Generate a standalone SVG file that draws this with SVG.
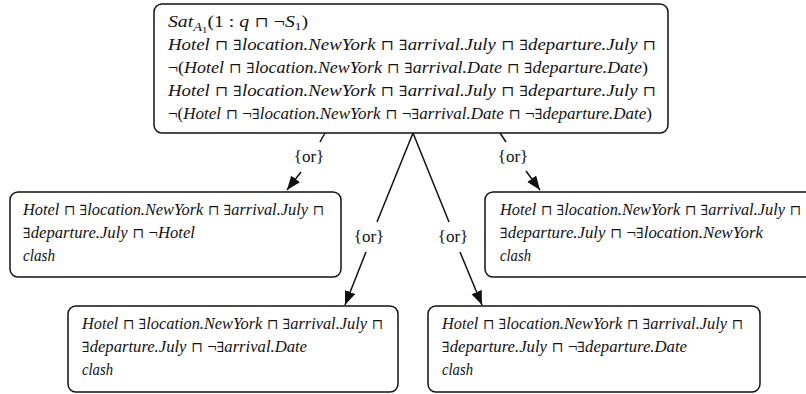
<svg xmlns="http://www.w3.org/2000/svg" width="806" height="394" viewBox="0 0 806 394">
<style>
.box{fill:#fff;stroke:#111;stroke-width:1.5}
.t{font-family:'Liberation Serif','Times New Roman',serif;font-style:italic;font-size:16.5px;fill:#111}
.u{font-style:normal}
.s{font-family:'DejaVu Serif',serif;font-style:normal;font-size:14px}
.e{fill:none;stroke:#111;stroke-width:1.5}
.lbl{font-family:'Liberation Serif','Times New Roman',serif;font-size:17px;fill:#111;text-anchor:middle}
</style>
<defs>
<marker id="ah" markerUnits="userSpaceOnUse" markerWidth="15" markerHeight="12" refX="14" refY="5.5" orient="auto">
<path d="M0,0 L14,5.5 L0,11 z" fill="#111"/>
</marker>
</defs>
<g id="n0">
<rect class="box" x="154" y="4" width="514" height="129" rx="8"/>
<text class="t" x="168" y="27" textLength="140" lengthAdjust="spacingAndGlyphs">Sat<tspan font-size="12" dy="4">A</tspan><tspan class="u" font-size="9" dy="2">1</tspan><tspan class="u" dy="-6">(1 : </tspan>q<tspan class="s"> ⊓ </tspan><tspan class="u">¬</tspan>S<tspan class="u" font-size="11" dy="3">1</tspan><tspan class="u" dy="-3">)</tspan></text>
<text class="t" x="168" y="50" textLength="488" lengthAdjust="spacingAndGlyphs">Hotel<tspan class="s"> ⊓ ∃</tspan>location.NewYork<tspan class="s"> ⊓ ∃</tspan>arrival.July<tspan class="s"> ⊓ ∃</tspan>departure.July<tspan class="s"> ⊓</tspan></text>
<text class="t" x="168" y="73" textLength="480" lengthAdjust="spacingAndGlyphs"><tspan class="u">¬(</tspan>Hotel<tspan class="s"> ⊓ ∃</tspan>location.NewYork<tspan class="s"> ⊓ ∃</tspan>arrival.Date<tspan class="s"> ⊓ ∃</tspan>departure.Date<tspan class="u">)</tspan></text>
<text class="t" x="168" y="96" textLength="488" lengthAdjust="spacingAndGlyphs">Hotel<tspan class="s"> ⊓ ∃</tspan>location.NewYork<tspan class="s"> ⊓ ∃</tspan>arrival.July<tspan class="s"> ⊓ ∃</tspan>departure.July<tspan class="s"> ⊓</tspan></text>
<text class="t" x="168" y="119" textLength="484" lengthAdjust="spacingAndGlyphs"><tspan class="u">¬(</tspan>Hotel<tspan class="s"> ⊓ </tspan><tspan class="u">¬</tspan><tspan class="s">∃</tspan>location.NewYork<tspan class="s"> ⊓ </tspan><tspan class="u">¬</tspan><tspan class="s">∃</tspan>arrival.Date<tspan class="s"> ⊓ </tspan><tspan class="u">¬</tspan><tspan class="s">∃</tspan>departure.Date<tspan class="u">)</tspan></text>
</g>
<g id="n1">
<rect class="box" x="10" y="192" width="331" height="85" rx="8"/>
<text class="t" x="23" y="215" textLength="301" lengthAdjust="spacingAndGlyphs">Hotel<tspan class="s"> ⊓ ∃</tspan>location.NewYork<tspan class="s"> ⊓ ∃</tspan>arrival.July<tspan class="s"> ⊓</tspan></text>
<text class="t" x="23" y="238" textLength="172" lengthAdjust="spacingAndGlyphs"><tspan class="s">∃</tspan>departure.July<tspan class="s"> ⊓ </tspan><tspan class="u">¬</tspan>Hotel</text>
<text class="t" x="23" y="261" textLength="32" lengthAdjust="spacingAndGlyphs">clash</text>
</g>
<g id="n2">
<rect class="box" x="485" y="192" width="340" height="85" rx="8"/>
<text class="t" x="500" y="215" textLength="301" lengthAdjust="spacingAndGlyphs">Hotel<tspan class="s"> ⊓ ∃</tspan>location.NewYork<tspan class="s"> ⊓ ∃</tspan>arrival.July<tspan class="s"> ⊓</tspan></text>
<text class="t" x="500" y="238" textLength="263" lengthAdjust="spacingAndGlyphs"><tspan class="s">∃</tspan>departure.July<tspan class="s"> ⊓ </tspan><tspan class="u">¬</tspan><tspan class="s">∃</tspan>location.NewYork</text>
<text class="t" x="500" y="261" textLength="31" lengthAdjust="spacingAndGlyphs">clash</text>
</g>
<g id="n3">
<rect class="box" x="68" y="306" width="330" height="86" rx="8"/>
<text class="t" x="82" y="329" textLength="301" lengthAdjust="spacingAndGlyphs">Hotel<tspan class="s"> ⊓ ∃</tspan>location.NewYork<tspan class="s"> ⊓ ∃</tspan>arrival.July<tspan class="s"> ⊓</tspan></text>
<text class="t" x="82" y="352" textLength="225" lengthAdjust="spacingAndGlyphs"><tspan class="s">∃</tspan>departure.July<tspan class="s"> ⊓ </tspan><tspan class="u">¬</tspan><tspan class="s">∃</tspan>arrival.Date</text>
<text class="t" x="82" y="375" textLength="31" lengthAdjust="spacingAndGlyphs">clash</text>
</g>
<g id="n4">
<rect class="box" x="428" y="306" width="332" height="86" rx="8"/>
<text class="t" x="442" y="329" textLength="301" lengthAdjust="spacingAndGlyphs">Hotel<tspan class="s"> ⊓ ∃</tspan>location.NewYork<tspan class="s"> ⊓ ∃</tspan>arrival.July<tspan class="s"> ⊓</tspan></text>
<text class="t" x="442" y="352" textLength="245" lengthAdjust="spacingAndGlyphs"><tspan class="s">∃</tspan>departure.July<tspan class="s"> ⊓ </tspan><tspan class="u">¬</tspan><tspan class="s">∃</tspan>departure.Date</text>
<text class="t" x="442" y="375" textLength="31" lengthAdjust="spacingAndGlyphs">clash</text>
</g>
<g id="connectors">
<path class="e" d="M325,133 L320,142"/>
<path class="e" d="M301,172 L287,190" marker-end="url(#ah)"/>
<text class="lbl" x="309" y="162">{or}</text>
<path class="e" d="M500,133 L506,142"/>
<path class="e" d="M526,171 L540,190" marker-end="url(#ah)"/>
<text class="lbl" x="513" y="162">{or}</text>
<path class="e" d="M413,133 L377,222"/>
<path class="e" d="M366,252 L345,305" marker-end="url(#ah)"/>
<text class="lbl" x="369" y="242">{or}</text>
<path class="e" d="M413,133 L449,222"/>
<path class="e" d="M460,252 L482,305" marker-end="url(#ah)"/>
<text class="lbl" x="453" y="242">{or}</text>
</g>
</svg>
